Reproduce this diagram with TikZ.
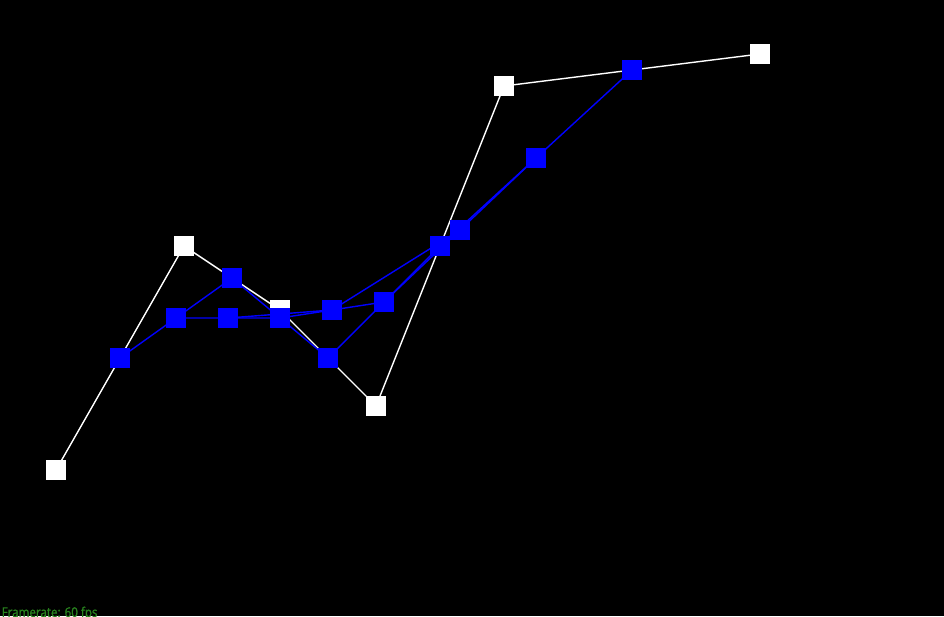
\documentclass[tikz,border=0pt]{standalone}
\usepackage{fontspec}
\newfontfamily\fpsfont[FakeStretch=0.86,FakeBold=1.2]{Open Sans}
\definecolor{fpsgreen}{RGB}{40,130,30}
\definecolor{ptblue}{RGB}{0,0,255}
\begin{document}
\begin{tikzpicture}[x=1pt,y=-1pt,
  wsq/.style={fill=white,draw=none,minimum size=20pt,inner sep=0pt,outer sep=0pt},
  bsq/.style={fill=ptblue,draw=none,minimum size=20pt,inner sep=0pt,outer sep=0pt},
  wline/.style={draw=white,line width=1.4pt},
  bline/.style={draw=ptblue,line width=1.4pt}]
\useasboundingbox (0,0) rectangle (944,616);
\clip (0,0) rectangle (944,616);
\fill[black] (0,0) rectangle (944,616);
% control polygon
\node[wsq] (w0) at (56,470) {};
\node[wsq] (w1) at (184,246) {};
\node[wsq] (w2) at (280,310) {};
\node[wsq] (w3) at (376,406) {};
\node[wsq] (w4) at (504,86) {};
\node[wsq] (w5) at (760,54) {};
\draw[wline] (w0.center) -- (w1.center) -- (w2.center) -- (w3.center) -- (w4.center) -- (w5.center);
\foreach \n in {w0,w1,w2,w3,w4,w5} \node[wsq] at (\n) {};
% subdivision levels
\coordinate (a1) at (120,358);
\coordinate (a2) at (232,278);
\coordinate (a3) at (328,358);
\coordinate (a4) at (440,246);
\coordinate (a5) at (632,70);
\coordinate (b1) at (176,318);
\coordinate (b2) at (280,318);
\coordinate (b3) at (384,302);
\coordinate (b4) at (536,158);
\coordinate (c1) at (228,318);
\coordinate (c2) at (332,310);
\coordinate (c3) at (460,230);
\draw[bline] (a1) -- (a2) -- (a3) -- (a4) -- (a5);
\draw[bline] (b1) -- (b2) -- (b3) -- (b4);
\draw[bline] (c1) -- (c2) -- (c3);
\foreach \n in {a1,a2,a3,a4,a5,b1,b2,b3,b4,c1,c2,c3} \node[bsq] (s\n) at (\n) {};
\node[anchor=base west,inner sep=0pt,text=fpsgreen,font=\fpsfont\fontsize{13.5}{15}\selectfont] (fps) at (1.5,617) {Framerate: 60 fps};
\end{tikzpicture}
\end{document}
